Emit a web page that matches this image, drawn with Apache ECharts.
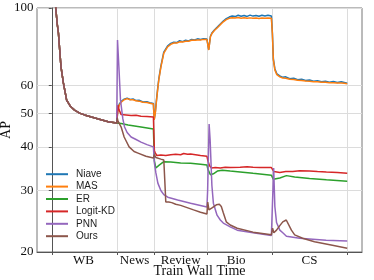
<!DOCTYPE html>
<html><head><meta charset="utf-8">
<script src="https://cdn.jsdelivr.net/npm/echarts@6/dist/echarts.min.js"></script>
<style>html,body{margin:0;padding:0;background:#fff}#c{width:374px;height:280px}</style>
</head><body><div id="c"></div>
<script>
const seriesNames = ['Niave','MAS','ER','Logit-KD','PNN','Ours'];
const seriesColors = ['#1f77b4','#ff7f0e','#2ca02c','#d62728','#9467bd','#8c564b'];
const taskNames = ['WB','News','Review','Bio','CS'];
const taskLabelPos = [32,83.5,130,186,260];
const taskBounds = [0,66,103,157,222,298];
const yTicks = [20,30,40,50,60,100];

// shared first task (WB), [time, AP]
const wbShared = [[2,140],[3,115],[4,100],[5.5,90],[6.7,84.8],[8,75.8],[9.3,67.8],[11.7,61],[15,54.5],[19,52.2],[23,51],[28,50],[33,49.4],[40,48.7],[47,48.1],[57,47.2],[65.5,46.8]];

const niave = [[66,46.8],[66.7,51.4],[68,53.0],[70,54.0],[73,54.8],[76,55.2],[79,54.7],[82,54.9],[85,54.3],[88,54.4],[92,53.8],[96,53.9],[100,53.4],[102.5,53.3],
[103.3,47.8],[104.5,50.5],[105.5,54.2],[106.7,58.4],[108,62.8],[110,68.0],[113,74.8],[116.7,77.8],[120,79.2],[123,79.8],[126,79.6],[129,80.6],[132,80.1],[135,80.9],[138,80.5],[141,81.3],[144,81.0],[147,81.6],[150,81.2],[153,81.7],[156.5,81.5],
[158.3,76.0],[160,83.0],[161.7,85.0],[164,86.5],[166.7,88.0],[170,90.0],[173,91.8],[176,93.2],[179,94.2],[182,94.9],[185,94.5],[188,95.3],[191,94.7],[194,95.2],[197,94.6],[200,95.4],[203,94.8],[206,95.2],[209,94.7],[212,95.3],[215,94.9],[218,95.3],[221.5,94.8],
[222.5,85],[223.5,71.5],[225,67.0],[227,64.8],[230,63.9],[233,63.3],[236,63.5],[240,62.7],[244,62.9],[248,62.3],[252,62.5],[256,62.0],[260,62.2],[264,61.7],[268,61.9],[272,61.5],[276,61.7],[280,61.3],[284,61.6],[288,61.2],[292,61.5],[295,61.2],[298,60.9]];

const mas = [[66,46.8],[66.7,51.0],[68,52.6],[70,53.7],[73,54.6],[76,55.0],[79,54.6],[82,54.6],[85,54.2],[88,54.1],[92,53.7],[96,53.6],[100,53.3],[102.5,53.1],
[103.3,47.8],[104.5,50.2],[105.5,53.9],[106.7,58.0],[108,62.4],[110,67.6],[113,74.3],[116.7,77.3],[120,78.7],[123,79.4],[126,79.4],[129,80.0],[132,79.9],[135,80.3],[138,80.3],[141,80.8],[144,80.8],[147,81.0],[150,81.0],[153,81.3],[156.5,81.2],
[158.3,75.8],[160,82.7],[161.7,84.7],[164,86.2],[166.7,87.6],[170,89.6],[173,91.3],[176,92.6],[179,93.4],[182,93.8],[185,93.6],[188,93.9],[191,93.5],[194,93.8],[197,93.4],[200,93.7],[203,93.4],[206,93.6],[209,93.3],[212,93.6],[215,93.4],[218,93.6],[221.5,93.5],
[222.5,84.5],[223.5,71],[225,66.5],[227,64.4],[230,63.5],[233,63.0],[236,62.9],[240,62.5],[244,62.4],[248,62.1],[252,62.0],[256,61.8],[260,61.7],[264,61.5],[268,61.5],[272,61.3],[276,61.3],[280,61.1],[284,61.1],[288,61.0],[292,61.0],[295,60.9],[298,60.7]];

const er = [[66.5,47.4],[70,46.7],[77,46.2],[90,45.6],[102.5,45.0],
[103.5,36.5],[105,34.8],[108,35.4],[113,36.3],[120,36.2],[130,36.0],[140,35.9],[150,35.7],[156.5,35.5],
[157.5,34.5],[160,33.3],[163,33.5],[167,34.1],[172,34.3],[180,34.1],[190,33.9],[203,33.6],[221.5,33.2],
[223.5,32.3],[225,31.9],[230,32.6],[236.7,33.1],[245,32.8],[260,32.5],[277,32.2],[298,31.9]];

const logitKD = [[66.7,52.7],[68,51],[70,49.5],[75,49.4],[80,49.2],[85,49.3],[90,49.0],[96,48.9],[102.5,48.7],
[103.5,39],[104.5,38.4],[106,37.8],[110,37.9],[115,37.8],[120,38.0],[125,38.1],[130,38.0],[133,38.3],[137,38.1],[140,38.2],[145,38.0],[150,37.8],[156.5,37.6],
[157.5,36.5],[159,35.4],[161,34.8],[165,34.9],[170,34.8],[175,35.0],[180,34.9],[190,35.0],[197,35.1],[203,35.0],[210,34.9],[221.5,34.9],
[222.7,35.3],[224,34.0],[230,33.8],[236,34.0],[243,34.0],[250,34.2],[260,34.1],[268,34.0],[277,33.9],[288,33.8],[298,33.6]];

const pnn = [[66.3,81],[67.7,67.8],[69.3,54.5],[71.7,48.1],[73.3,45.7],[76,44],[80,42.7],[85,42],[90,41.3],[96,40.6],[102.5,40],
[103.5,36],[105,33.7],[107,31.5],[110,30],[113,29.2],[117,28.7],[127,28.2],[140,27.6],[156.5,26.9],
[157.2,30],[158.7,46.5],[159.7,42],[161.5,31],[163,27.6],[166.7,25.5],[170,24.7],[173,24.2],[180,23.6],[187,23.1],[203,22.7],[221.5,22.3],
[223.8,34.8],[225,27],[226.7,24.3],[230,23.1],[233,22.7],[236.7,22.2],[250,21.9],[276.7,21.6],[298,21.5]];

const ours = [[66,48.5],[66.7,47.5],[70,45.6],[73,42.7],[78,40],[83,38.8],[87,38.4],[95,37.6],[102.5,37.2],
[103.5,38.0],[105,37.3],[110,36.9],[113,36.7],[114,32],[115,27.8],[118,27.8],[121,27.7],[125,27.4],[130,27.2],[143,26.4],[150,26.0],[156.5,25.7],
[157.3,27.8],[158.5,26.4],[162,26.8],[166,27.3],[169,27.4],[171,27.0],[173,25.9],[176,24.4],[180,23.9],[187,23.4],[203,22.8],[221.5,22.4],
[222.7,23.4],[224,22.7],[226.7,23.1],[230,23.8],[233,24.4],[236.5,24.7],[238,24.4],[241.7,23.1],[245,22.4],[253,21.9],[265,21.4],[283,20.9],[298,20.5]];

const perSeries = [niave, mas, er, logitKD, pnn, ours];

const chart = echarts.init(document.getElementById('c'), null, {renderer:'canvas'});
const serif = 'Liberation Serif';
chart.setOption({
  animation: false,
  grid: {left:37, right:12, top:8, bottom:28, show:true, borderColor:'#777', borderWidth:1, backgroundColor:'transparent', outerBoundsMode:'none'},
  legend: {
    orient:'vertical', left:41, top:163, itemWidth:22, itemHeight:2, itemGap:0, icon:'rect',
    data: seriesNames,
    textStyle:{fontFamily:'Liberation Sans', fontSize:10, color:'#222', lineHeight:12.4, padding:[0,0,0,3]}
  },
  xAxis: {
    type:'value', min:-14.9, max:312.9,
    name:'Train Wall Time', nameLocation:'middle', nameGap:12, nameMoveOverlap:false,
    nameTextStyle:{fontFamily:serif, fontSize:14, color:'#111'},
    axisLine:{show:true, onZero:false, lineStyle:{color:'#555', width:1}},
    axisTick:{show:true, length:3, inside:false, customValues: taskBounds, lineStyle:{color:'#555'}},
    axisLabel:{customValues: taskLabelPos, margin:2, fontFamily:serif, fontSize:13, color:'#111',
      formatter: v => { const i = taskLabelPos.indexOf(v); return i >= 0 ? taskNames[i] : ''; }},
    splitLine:{show:true, lineStyle:{color:'#dcdcdc', width:1}}
  },
  yAxis: {
    type:'log', logBase:10, min:20, max:100,
    name:'AP', nameLocation:'middle', nameGap:24, nameMoveOverlap:false,
    nameTextStyle:{fontFamily:serif, fontSize:14, color:'#111'},
    axisLine:{show:true, lineStyle:{color:'#555', width:1}},
    axisTick:{show:true, length:3, customValues: yTicks, lineStyle:{color:'#555'}},
    axisLabel:{customValues: yTicks, margin:3.5, fontFamily:serif, fontSize:13, color:'#111', formatter: v => String(Math.round(v))},
    minorTick:{show:false}, minorSplitLine:{show:false},
    splitLine:{show:true, lineStyle:{color:'#dcdcdc', width:1}}
  },
  series: seriesNames.map((n, i) => ({
    name:n, type:'line', showSymbol:false, symbol:'none', clip:true,
    lineStyle:{width:1.5, color:seriesColors[i]}, itemStyle:{color:seriesColors[i]},
    data: wbShared.concat(perSeries[i])
  }))
});
</script></body></html>
